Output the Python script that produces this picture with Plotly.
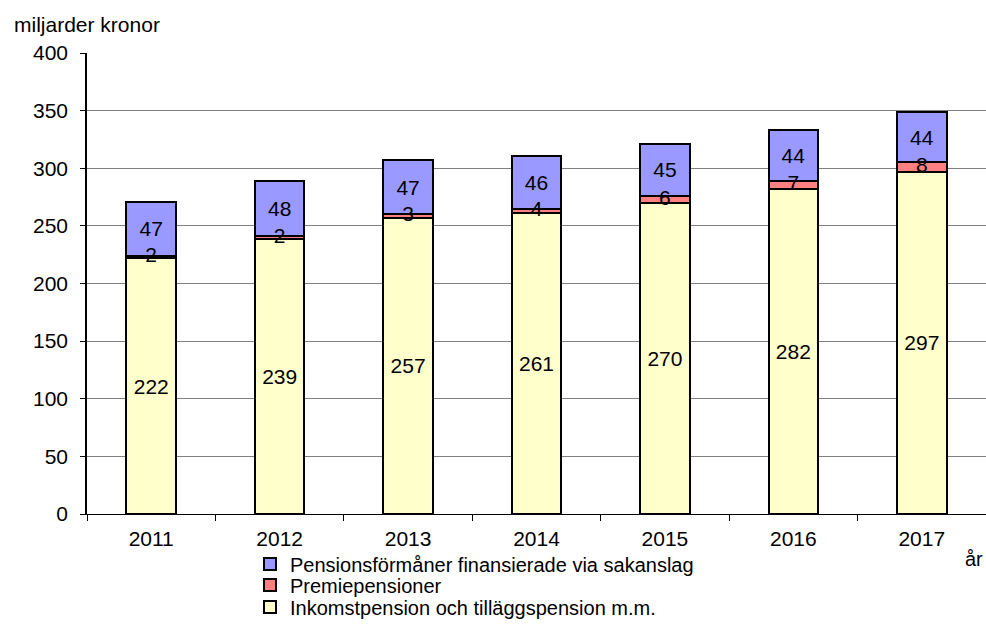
import plotly.graph_objects as go

years = ["2011", "2012", "2013", "2014", "2015", "2016", "2017"]
inkomst = [222, 239, 257, 261, 270, 282, 297]
premie = [2, 2, 3, 4, 6, 7, 8]
sakanslag = [47, 48, 47, 46, 45, 44, 44]

names = ["Inkomstpension och tilläggspension m.m.", "Premiepensioner",
         "Pensionsförmåner finansierade via sakanslag"]
colors = ["#FFFFCC", "#FF8080", "#9999FF"]
legend_ids = ["legend3", "legend2", "legend"]
FONT = "Liberation Sans, Arial, sans-serif"
FS = 21
LFS = 20

fig = go.Figure()
for vals, name, col, lid in zip([inkomst, premie, sakanslag], names, colors, legend_ids):
    is_small = name == "Premiepensioner"
    fig.add_trace(go.Bar(
        x=years, y=vals, name=name, legend=lid,
        marker=dict(color=col, line=dict(color="black", width=2)),
        text=None if is_small else [str(v) for v in vals],
        textposition="none" if is_small else "inside",
        insidetextanchor="middle", constraintext="none",
        textfont=dict(color="black", size=FS, family=FONT),
        width=0.385,
    ))

# labels for thin segment drawn on top of all bars
fig.add_trace(go.Scatter(
    x=years, y=[a + b / 2 for a, b in zip(inkomst, premie)],
    mode="text", text=[str(v) for v in premie],
    textfont=dict(color="black", size=FS, family=FONT),
    showlegend=False, hoverinfo="skip", cliponaxis=False,
))

H_PLOT = 461.0
def ypaper(win_y):
    return (514 - win_y) / H_PLOT

def xpaper(win_x):
    return (win_x - 87) / 899.0

leg_common = dict(xanchor="left", yanchor="middle", font=dict(size=LFS),
                  itemwidth=30, bgcolor="rgba(0,0,0,0)", x=xpaper(250))

fig.update_layout(
    barmode="stack",
    width=986, height=624,
    margin=dict(l=87, r=0, t=53, b=110, autoexpand=False),
    paper_bgcolor="white", plot_bgcolor="white",
    font=dict(family=FONT, size=FS, color="black"),
    showlegend=True,
    legend=dict(y=ypaper(564), **leg_common),
    legend2=dict(y=ypaper(585), **leg_common),
    legend3=dict(y=ypaper(607), **leg_common),
    xaxis=dict(showline=True, linecolor="black", linewidth=1,
               ticks="outside", tickson="boundaries", ticklen=6,
               tickcolor="black", showgrid=False, ticklabelstandoff=6),
    yaxis=dict(range=[0, 400], dtick=50, showline=True, linecolor="black",
               linewidth=1.5, ticks="outside", ticklen=5, tickcolor="black",
               showgrid=True, gridcolor="#808080", gridwidth=1,
               zeroline=False, ticklabelstandoff=8),
    annotations=[
        dict(text="miljarder kronor", x=xpaper(12), y=ypaper(24),
             xref="paper", yref="paper", xanchor="left", yanchor="middle",
             showarrow=False, font=dict(size=FS)),
        dict(text="år", x=xpaper(974), y=ypaper(559),
             xref="paper", yref="paper", xanchor="center", yanchor="middle",
             showarrow=False, font=dict(size=20)),
    ],
)

fig.write_html(
    "out.html",
    config={"displayModeBar": False},
    post_script="document.body.style.margin='0';"
                "document.documentElement.style.overflow='hidden';"
                "document.body.style.overflow='hidden';",
)
